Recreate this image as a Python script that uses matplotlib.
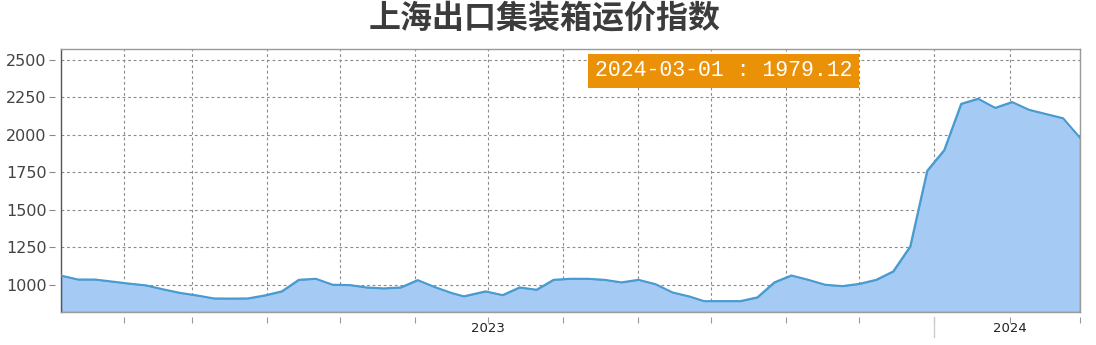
import numpy as np
import pandas as pd
import matplotlib
matplotlib.use('Agg')
import matplotlib.pyplot as plt
import matplotlib.transforms as mtransforms

plt.rcParams['font.family'] = ['DejaVu Sans', 'Noto Sans CJK SC']

# weekly index values
dates = ['2023-01-06', '2023-01-13', '2023-01-20', '2023-02-03', '2023-02-10',
         '2023-02-17', '2023-02-24', '2023-03-03', '2023-03-10', '2023-03-17',
         '2023-03-24', '2023-03-31', '2023-04-07', '2023-04-14', '2023-04-21',
         '2023-04-28', '2023-05-05', '2023-05-12', '2023-05-19', '2023-05-26',
         '2023-06-02', '2023-06-09', '2023-06-16', '2023-06-21', '2023-06-30',
         '2023-07-07', '2023-07-14', '2023-07-21', '2023-07-28', '2023-08-04',
         '2023-08-11', '2023-08-18', '2023-08-25', '2023-09-01', '2023-09-08',
         '2023-09-15', '2023-09-22', '2023-09-28', '2023-10-13', '2023-10-20',
         '2023-10-27', '2023-11-03', '2023-11-10', '2023-11-17', '2023-11-24',
         '2023-12-01', '2023-12-08', '2023-12-15', '2023-12-22', '2023-12-29',
         '2024-01-05', '2024-01-12', '2024-01-19', '2024-01-26', '2024-02-02',
         '2024-02-09', '2024-02-16', '2024-02-23', '2024-03-01']
values = [1061.14, 1035, 1035, 1008, 996,
          970, 946, 929, 909, 908,
          909, 929, 956, 1033, 1040,
          1000, 998, 982, 976, 982,
          1031, 985, 945, 923, 956,
          931, 982, 967, 1033, 1040,
          1040, 1033, 1016, 1033, 1004,
          949, 922, 891, 891, 916,
          1016, 1062, 1033, 1000, 991,
          1006, 1033, 1089, 1255, 1760,
          1897, 2206, 2240, 2179, 2218,
          2166, 2138, 2110, 1979.12]
yticks = [1000, 1250, 1500, 1750, 2000, 2250, 2500]
year_labels = ['2023', '2024']
year_label_dates = ['2023-07-01', '2024-02-01']
title = '上海出口集装箱运价指数'

x = pd.to_datetime(dates)
ymin, ymax = 818, 2571

fig = plt.figure(figsize=(10.96, 3.45), dpi=100)
ax = fig.add_axes([61/1096, 1-312/345, 1019/1096, 263/345])

ax.fill_between(x, values, ymin, color='#a5cbf5', edgecolor='#4a9bd0', lw=1.0, zorder=2)
ax.plot(x, values, color='#4a9bd0', lw=1.4, zorder=3)

ax.set_xlim(x[0], x[-1])
ax.set_ylim(ymin, ymax)

months = pd.date_range('2023-02-01', '2024-03-01', freq='MS')
ax.set_xticks(months)
ax.set_yticks(yticks)
ax.tick_params(length=0, labelbottom=False, labelleft=False)
ax.grid(True, color='#8a8a8a', ls=(0, (2.5, 2.5)), lw=0.8, zorder=1)
ax.set_axisbelow(True)
for s in ax.spines.values():
    s.set_color('#9a9a9a')
    s.set_linewidth(1.0)
ax.spines['left'].set_color('#555555')

# y labels with a small gap from the axis
sy = ax.secondary_yaxis(-0.006)
sy.spines['left'].set_visible(False)
sy.set_yticks(yticks)
sy.tick_params(length=4, width=0.8, color='#888888', labelsize=11.5, labelcolor='#444444', pad=2)

# month ticks sitting below the axis
sx = ax.secondary_xaxis(-0.02)
sx.spines['bottom'].set_visible(False)
sx.set_xticks(months)
sx.set_xticklabels([])
sx.tick_params(which='major', length=4, width=0.8, color='#999999')

# year labels between the ticks
trans = mtransforms.blended_transform_factory(ax.transData, ax.transAxes)
for d, lab in zip(year_label_dates, year_labels):
    ax.text(pd.Timestamp(d), -0.037, lab, transform=trans, ha='center', va='top',
            fontsize=9.5, color='#222222')

# year separator
ax.axvline(pd.Timestamp('2024-01-01'), ymin=-0.095, ymax=-0.02, color='#cccccc', lw=1.0, clip_on=False)

label = '%s : %.2f' % (dates[-1], values[-1])
ax.text(0.65, 0.918, label, transform=ax.transAxes, ha='center', va='center',
        family='Liberation Mono', fontsize=15.5, color='white',
        bbox=dict(boxstyle='square,pad=0.3', fc='#eb9108', ec='none'), zorder=5)

fig.text(0.497, 0.945, title, ha='center', va='center', fontsize=23, fontweight='bold',
         color='#3c3c3c', family=['Noto Sans CJK SC'])

fig.savefig('out.png', dpi=100)
